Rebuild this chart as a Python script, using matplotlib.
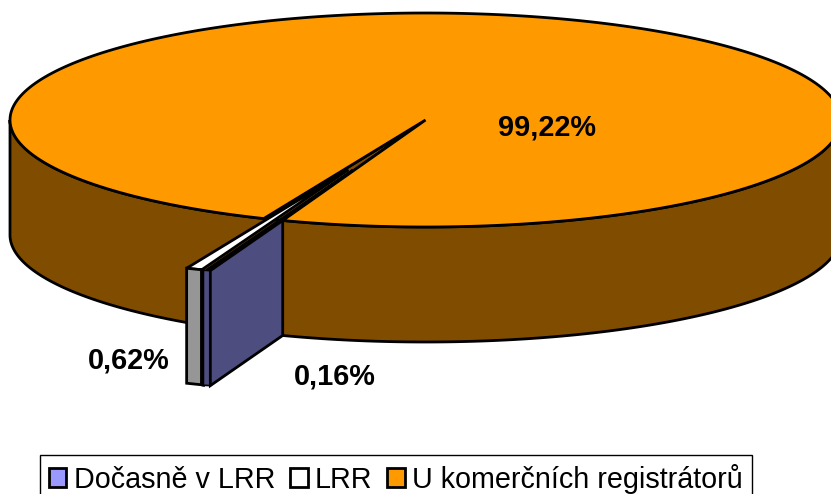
import numpy as np
import matplotlib
matplotlib.use('Agg')
import matplotlib.pyplot as plt
from matplotlib.patches import Polygon, Patch

plt.rcParams['font.family'] = ['Liberation Sans', 'DejaVu Sans']

# values from the chart
categories = ['Dočasně v LRR', 'LRR', 'U komerčních registrátorů']
shares = [0.16, 0.62, 99.22]
share_labels = ['0,16%', '0,62%', '99,22%']

top_colors = ['#9999ff', '#ffffff', '#ff9900']
side_colors = ['#4d4d80', '#969696', '#804d00']

# pie geometry in pixels
cx, cy = 425.5, 120
rx, ry = 415.5, 107
depth = 115
explode = 0.5
start_angle = 20.1  # degrees, clockwise from the front of the pie
lw = 2.0


def pt(angle, r=1.0, drop=0.0):
    a = np.radians(np.atleast_1d(angle))
    return np.column_stack([cx - r * rx * np.sin(a), cy + r * ry * np.cos(a) + drop])


def arc(a0, a1, drop=0.0, n=300):
    return pt(np.linspace(a0, a1, n), 1.0, drop)


def shift(points, mid):
    # exploded slices move out along their middle angle
    return points + (pt(mid, explode) - pt(mid, 0.0))


fig = plt.figure(figsize=(8.31, 4.94), dpi=100, facecolor='white')
ax = fig.add_axes([0, 0, 1, 1])
ax.set_xlim(0, 831)
ax.set_ylim(494, 0)
ax.axis('off')

edges = start_angle + np.cumsum([0] + [s * 3.6 for s in shares])
blue0, blue1, white1 = edges[0], edges[1], edges[2]
blue_mid = (blue0 + blue1) / 2
white_mid = (blue1 + white1) / 2
tip = pt(0.0, 0.0)

# side wall of the big slice, front half
wall = np.vstack([arc(-90, 90), arc(90, -90, drop=depth)])
ax.add_patch(Polygon(wall, closed=True, fc=side_colors[2], ec='black', lw=lw, zorder=1))

# top of the big slice, the gap shows its inner wall
big = np.vstack([pt(white1), arc(white1, blue0 + 360), tip])
gap = np.vstack([tip, arc(blue0, white1, n=20)])
ax.add_patch(Polygon(gap, closed=True, fc=side_colors[2], ec='black', lw=lw, zorder=2))
ax.add_patch(Polygon(big, closed=True, fc=top_colors[2], ec='black', lw=lw, zorder=3))

# exploded white slice
white_top = shift(np.vstack([tip, arc(blue1, white1, n=20)]), white_mid)
white_edge = shift(pt(blue1), white_mid)
white_outer = shift(pt(white1), white_mid)
white_front = np.vstack([white_edge, white_outer, white_outer + [0, depth], white_edge + [0, depth]])
ax.add_patch(Polygon(white_top, closed=True, fc=top_colors[1], ec='black', lw=lw, zorder=4))
ax.add_patch(Polygon(white_front, closed=True, fc=side_colors[1], ec='black', lw=lw, zorder=5))

# exploded blue slice, the strip is widened a little so it stays visible under its outline
blue_top = shift(np.vstack([tip, arc(blue0, blue1, n=20)]), blue_mid)
blue_right = shift(pt(blue0), blue_mid)
blue_left = shift(pt(blue1), blue_mid) - [3, 0]
blue_front = np.vstack([blue_right, blue_left, blue_left + [0, depth], blue_right + [0, depth]])
seam = np.vstack([white_edge, blue_left, blue_left + [0, depth], white_edge + [0, depth]])
ax.add_patch(Polygon(seam, closed=True, fc='black', ec='black', lw=lw, zorder=6))
ax.add_patch(Polygon(blue_top, closed=True, fc=top_colors[0], ec='black', lw=lw, zorder=7))
ax.add_patch(Polygon(blue_front, closed=True, fc=side_colors[0], ec='black', lw=1.2, zorder=8))

# cut face of the blue slice
blue_cut = np.vstack([pt(blue0), blue_right, blue_right + [0, depth], pt(blue0, 1.0, depth)])
ax.add_patch(Polygon(blue_cut, closed=True, fc=side_colors[0], ec='black', lw=lw, zorder=9))

# percent labels
ax.text(335, 376, share_labels[0], fontsize=20.8, fontweight='bold', ha='center', va='center', zorder=10)
ax.text(129, 360, share_labels[1], fontsize=20.8, fontweight='bold', ha='center', va='center', zorder=10)
ax.text(547, 127, share_labels[2], fontsize=20.8, fontweight='bold', ha='center', va='center', zorder=10)

handles = [Patch(fc=c, ec='black', lw=lw) for c in top_colors]
leg = ax.legend(handles, categories, loc='upper left', bbox_to_anchor=(40, 455),
                bbox_transform=ax.transData, ncol=3, fontsize=20.7, frameon=True,
                fancybox=False, edgecolor='black', framealpha=1, borderaxespad=0,
                handlelength=0.62, handleheight=0.62, handletextpad=0.25,
                columnspacing=0.52, borderpad=0.3)
leg.get_frame().set_linewidth(1.0)

fig.savefig('out.png', dpi=100, facecolor='white')
